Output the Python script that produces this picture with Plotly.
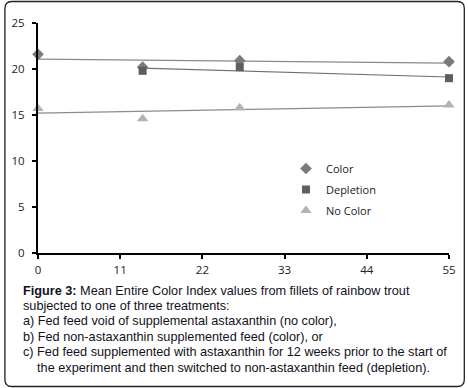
import numpy as np
import plotly.graph_objects as go

# ---- data ----
days_color = [0, 14, 27, 55]
color_vals = [21.6, 20.2, 20.9, 20.8]
days_depl = [14, 27, 55]
depl_vals = [19.8, 20.2, 19.0]
days_nocolor = [0, 14, 27, 55]
nocolor_vals = [15.7, 14.6, 15.8, 16.1]
x_ticks = [0, 11, 22, 33, 44, 55]
y_ticks = [0, 5, 10, 15, 20, 25]
caption_lines = [
    "<b>Figure 3:</b> Mean Entire Color Index values from fillets of rainbow trout",
    "subjected to one of three treatments:",
    "a) Fed feed void of supplemental astaxanthin (no color),",
    "b) Fed non-astaxanthin supplemented feed (color), or",
    "c) Fed feed supplemented with astaxanthin for 12 weeks prior to the start of",
    "    the experiment and then switched to non-astaxanthin feed (depletion).",
]

W, H = 468, 388
L, R, T, B = 35, 17, 23, 135
pw, ph = W - L - R, H - T - B


def px_to_paper(px, py):
    return (px - L) / pw, (H - B - py) / ph


fig = go.Figure()

series = [
    ("Color", days_color, color_vals, "diamond", 9, "#7a7a7a", "#8a8a8a"),
    ("Depletion", days_depl, depl_vals, "square", 8, "#5e5e5e", "#707070"),
    ("No Color", days_nocolor, nocolor_vals, "triangle-up", 10, "#b3b3b3", "#8c8c8c"),
]

for i, (name, xs, ys, sym, sz, mcol, lcol) in enumerate(series):
    xs_a = np.array(xs, float)
    ys_a = np.array(ys, float)
    m, c = np.polyfit(xs_a, ys_a, 1)
    xl = np.array([xs_a.min(), xs_a.max()])
    fig.add_trace(go.Scatter(
        x=xl, y=m * xl + c, mode="lines", showlegend=False,
        line=dict(color=lcol, width=1.2), hoverinfo="skip", cliponaxis=False,
    ))

for i, (name, xs, ys, sym, sz, mcol, lcol) in enumerate(series):
    fig.add_trace(go.Scatter(
        x=xs, y=ys, mode="markers", name=name, legendgroup=name,
        marker=dict(symbol=sym, size=sz, color=mcol, line=dict(width=0)),
        cliponaxis=False,
    ))

# rounded border around whole figure
x0, y0, x1, y1, r = 1.5, 1.5, 466.5, 386.5, 7
def P(px, py):
    a, b = px_to_paper(px, py)
    return f"{a:.5f},{b:.5f}"
path = (
    f"M {P(x0 + r, y0)} L {P(x1 - r, y0)} Q {P(x1, y0)} {P(x1, y0 + r)} "
    f"L {P(x1, y1 - r)} Q {P(x1, y1)} {P(x1 - r, y1)} "
    f"L {P(x0 + r, y1)} Q {P(x0, y1)} {P(x0, y1 - r)} "
    f"L {P(x0, y0 + r)} Q {P(x0, y0)} {P(x0 + r, y0)} Z"
)
fig.add_shape(type="path", path=path, xref="paper", yref="paper",
              line=dict(color="#222222", width=1.3), layer="below")

annotations = []
for k, line in enumerate(caption_lines):
    ax, ay = px_to_paper(18, 290.5 + k * 15.45)
    annotations.append(dict(
        text=line.replace("    ", "&nbsp;&nbsp;&nbsp;&nbsp;"), xref="paper", yref="paper",
        x=ax, y=ay, xanchor="left", yanchor="middle", showarrow=False,
        font=dict(family="Liberation Sans, Arial", size=12.7, color="#111122"),
    ))

lx, ly = px_to_paper(286, 154)

fig.update_layout(
    width=W, height=H,
    margin=dict(l=L, r=R, t=T, b=B, pad=0),
    paper_bgcolor="white", plot_bgcolor="white",
    font=dict(family="Open Sans, DejaVu Sans", size=11, color="#222222"),
    showlegend=True,
    legend=dict(x=lx, y=ly, xanchor="left", yanchor="top",
                bgcolor="rgba(0,0,0,0)", font=dict(size=11, color="#222222"),
                tracegroupgap=2, itemwidth=30, traceorder="grouped"),
    annotations=annotations,
    xaxis=dict(range=[0, 55], tickmode="array", tickvals=x_ticks,
               showgrid=False, zeroline=False, showline=True,
               linecolor="black", linewidth=2, ticks="outside", ticklen=4,
               tickwidth=2, tickcolor="black", tickfont=dict(size=11.5),
               ticklabelstandoff=1),
    yaxis=dict(range=[0, 25], tickmode="array", tickvals=y_ticks,
               showgrid=False, zeroline=False, showline=True,
               linecolor="black", linewidth=2, ticks="outside", ticklen=4,
               tickwidth=2, tickcolor="black", tickfont=dict(size=11.5),
               ticklabelstandoff=5),
)

fig.write_html("out.html", config={"displayModeBar": False},
               post_script="document.body.style.margin='0';document.body.style.padding='0';")
